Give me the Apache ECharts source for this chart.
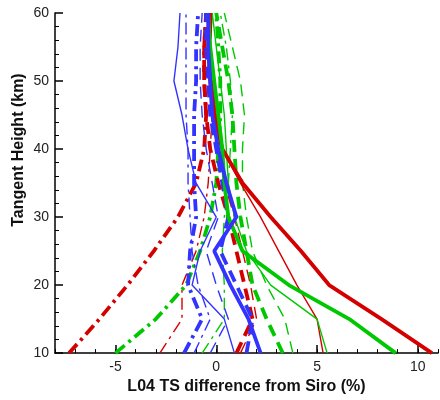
<!DOCTYPE html>
<html>
<head>
<meta charset="utf-8">
<script src="https://cdn.jsdelivr.net/npm/echarts@6/dist/echarts.min.js"></script>
<style>
  html, body { margin: 0; padding: 0; background: #fff; }
  #chart { width: 440px; height: 400px; }
</style>
</head>
<body>
<div id="chart"></div>
<script>
// tangent heights (km) shared by every profile
var heights = [10, 15, 20, 25, 30, 35, 40, 45, 50, 55, 60];

// red profiles (% difference)
var redThick = [10.7, 8.2, 5.6, 4.2, 2.7, 1.3, 0.3, -0.1, -0.3, -0.4, -0.3];
var redThin = [5.3, 5.0, 4.0, 3.1, 2.2, 1.2, 0.3, 0.0, -0.2, -0.3, -0.2];
var redDashThick = [1.0, 1.8, 1.4, 1.0, 0.6, 0.1, -0.3, -0.5, -0.6, -0.6, -0.5];
var redDashThin = [1.2, 2.0, 1.7, 1.3, 0.9, 0.4, 0.0, -0.2, -0.3, -0.3, -0.2];
var redDotThick = [-7.3, -5.8, -4.4, -3.1, -1.9, -1.0, -0.6, -0.5, -0.6, -0.6, -0.5];
var redDotThin = [-2.8, -1.7, -1.7, -1.0, -0.6, -0.4, -0.3, -0.2, -0.3, -0.4, -0.3];

// green profiles
var greenThick = [8.9, 6.6, 3.6, 1.3, 0.6, 0.4, 0.3, 0.1, -0.1, -0.3, -0.4];
var greenThin = [5.5, 5.0, 2.7, 1.5, 0.9, 0.6, 0.5, 0.4, 0.2, 0.0, -0.2];
var greenDashThick = [3.3, 2.5, 1.8, 1.5, 1.2, 1.0, 0.9, 0.8, 0.6, 0.3, 0.0];
var greenDashThin = [3.8, 3.4, 2.5, 1.8, 1.5, 1.3, 1.3, 1.4, 1.2, 0.8, 0.4];
var greenDotThick = [-5.0, -3.0, -1.5, -0.8, -0.3, 0.0, 0.1, 0.2, 0.2, 0.1, 0.0];
var greenDotThin = [-0.7, 0.4, 0.4, 0.3, 0.4, 0.6, 0.7, 0.8, 0.7, 0.5, 0.2];

// blue profiles
var blueThick = [2.2, 1.6, 0.7, -0.1, 1.0, 0.5, 0.1, -0.2, -0.3, -0.4, -0.4];
var blueThin = [0.9, 0.4, -1.2, -0.8, 0.0, -1.0, -1.4, -1.7, -2.1, -1.9, -1.8];
var blueDashThick = [1.5, 1.8, 1.0, 0.2, 0.6, 0.3, 0.0, -0.3, -0.4, -0.5, -0.5];
var blueDashThin = [-0.3, 0.6, 0.0, -0.5, 0.1, -0.2, -0.5, -0.7, -0.8, -0.8, -0.7];
var blueDotThick = [-1.6, -0.7, -1.4, -1.3, -1.0, -1.1, -1.1, -1.1, -1.0, -1.0, -0.9];
var blueDotThin = [-1.1, -0.3, -0.9, -1.2, -1.3, -1.4, -1.4, -1.5, -1.5, -1.5, -1.5];

// axis labels
var xLabels = [-5, 0, 5, 10];
var yLabels = [10, 20, 30, 40, 50, 60];

var RED = '#d40000', GREEN = '#00c800', BLUE = '#3333ff';
var DASH = [12, 7];
var DASHDOT = [12, 5, 3, 5];

function profile(values, color, width, dash) {
  return {
    type: 'line',
    data: values.map(function (v, i) { return [v, heights[i]]; }),
    showSymbol: false,
    silent: true,
    lineStyle: { color: color, width: width, type: dash || 'solid' }
  };
}

var series = [
  profile(redDotThick, RED, 3.8, DASHDOT),
  profile(redDotThin, RED, 1.4, DASHDOT),
  profile(greenDotThick, GREEN, 3.8, DASHDOT),
  profile(greenDotThin, GREEN, 1.4, DASHDOT),
  profile(blueDotThick, BLUE, 3.8, DASHDOT),
  profile(blueDotThin, BLUE, 1.4, DASHDOT),
  profile(redDashThick, RED, 3.8, DASH),
  profile(redDashThin, RED, 1.4, DASH),
  profile(greenDashThick, GREEN, 3.8, DASH),
  profile(greenDashThin, GREEN, 1.4, DASH),
  profile(blueDashThick, BLUE, 3.8, DASH),
  profile(blueDashThin, BLUE, 1.4, DASH),
  profile(redThin, RED, 1.4),
  profile(greenThin, GREEN, 1.4),
  profile(blueThin, BLUE, 1.4),
  profile(redThick, RED, 3.8),
  profile(greenThick, GREEN, 3.8),
  profile(blueThick, BLUE, 3.8)
];

var chart = echarts.init(document.getElementById('chart'), null, { renderer: 'canvas' });
var labelFont = { color: '#222', fontSize: 14, fontFamily: 'Liberation Sans' };
var nameFont = { color: '#111', fontSize: 16, fontWeight: 'bold', fontFamily: 'Liberation Sans' };

chart.setOption({
  animation: false,
  backgroundColor: '#fff',
  grid: { left: 55, right: 2, top: 13, bottom: 37, containLabel: false },
  xAxis: [{
    type: 'value',
    min: -8,
    max: 11,
    interval: 1,
    name: 'L04 TS difference from Siro (%)',
    nameLocation: 'middle',
    nameGap: 19,
    nameTextStyle: nameFont,
    axisLine: { show: true, onZero: false, lineStyle: { color: '#000', width: 1.5 } },
    axisTick: { show: true, inside: true, length: 4, lineStyle: { color: '#000' } },
    axisLabel: {
      customValues: xLabels,
      margin: 7,
      color: labelFont.color, fontSize: labelFont.fontSize, fontFamily: labelFont.fontFamily
    },
    splitLine: { show: false }
  }, {
    // longer ticks at labelled values
    type: 'value',
    min: -8,
    max: 11,
    position: 'bottom',
    axisLine: { show: false, onZero: false },
    axisTick: { show: true, inside: true, length: 8, customValues: xLabels, lineStyle: { color: '#000', width: 1.5 } },
    axisLabel: { show: false },
    splitLine: { show: false }
  }],
  yAxis: {
    type: 'value',
    min: 10,
    max: 60,
    interval: 10,
    name: 'Tangent Height (km)',
    nameLocation: 'middle',
    nameGap: 28,
    nameMoveOverlap: false,
    nameTextStyle: Object.assign({ padding: [0, 0, 0, 66] }, nameFont),
    axisLine: { show: true, onZero: false, lineStyle: { color: '#000', width: 1.5 } },
    axisTick: { show: true, inside: true, length: 8, lineStyle: { color: '#000', width: 1.5 } },
    minorTick: { show: true, splitNumber: 5, length: 4, lineStyle: { color: '#000' } },
    axisLabel: {
      customValues: yLabels,
      margin: 6,
      color: labelFont.color, fontSize: labelFont.fontSize, fontFamily: labelFont.fontFamily
    },
    splitLine: { show: false }
  },
  series: series
});
</script>
</body>
</html>
